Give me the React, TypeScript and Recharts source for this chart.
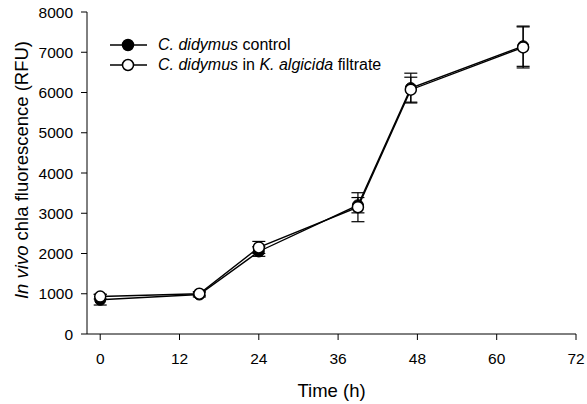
import React from 'react';
import { LineChart, Line, XAxis, YAxis, ErrorBar, Legend, Label } from 'recharts';

// sampling times (h) and in vivo chla fluorescence (RFU), mean and SD
const hours = [0, 15, 24, 39, 47, 64];
const controlRfu = [850, 980, 2050, 3200, 6110, 7150];
const controlSd = [130, 60, 120, 190, 370, 500];
const filtrateRfu = [930, 1000, 2150, 3150, 6070, 7120];
const filtrateSd = [60, 50, 150, 360, 310, 510];

const xTicks = [0, 12, 24, 36, 48, 60, 72];
const yTicks = [0, 1000, 2000, 3000, 4000, 5000, 6000, 7000, 8000];

const FONT = '"Liberation Sans", Arial, sans-serif';

const data = hours.map((h, i) => ({
  h,
  ctrl: controlRfu[i],
  ctrlSd: controlSd[i],
  filt: filtrateRfu[i],
  filtSd: filtrateSd[i],
}));

const legendRows = [
  { sp: 'C. didymus', mid: ' control', strain: '', tail: '', fill: '#000' },
  { sp: 'C. didymus', mid: ' in ', strain: 'K. algicida', tail: ' filtrate', fill: '#fff' },
];

const ChartLegend = () => (
  <div style={{ fontFamily: FONT, fontSize: 16, color: '#000' }}>
    {legendRows.map((r, i) => (
      <div key={i} style={{ display: 'flex', alignItems: 'center', height: 20, whiteSpace: 'nowrap' }}>
        <svg width={38} height={14}>
          <line x1={0} y1={7} x2={37} y2={7} stroke="#000" strokeWidth={1.5} />
          <circle cx={18} cy={7} r={5.5} fill={r.fill} stroke="#000" strokeWidth={1.5} />
        </svg>
        <span style={{ marginLeft: 10 }}>
          <i>{r.sp}</i>{r.mid}{r.strain && <i>{r.strain}</i>}{r.tail}
        </span>
      </div>
    ))}
  </div>
);

const YTitle = () => (
  <text transform="translate(28,170) rotate(-90)" textAnchor="middle" fontSize={18.5} fill="#000" fontFamily={FONT}>
    <tspan fontStyle="italic">In vivo</tspan>
    <tspan> chla fluorescence (RFU)</tspan>
  </text>
);

const XTitle = () => (
  <text x={331.5} y={397} textAnchor="middle" fontSize={18.5} fill="#000" fontFamily={FONT}>
    Time (h)
  </text>
);

export default function App() {
  return (
    <div style={{ position: 'absolute', left: 0, top: 0, width: 587, height: 404, background: '#fff', fontFamily: FONT }}>
      <LineChart width={587} height={404} data={data} margin={{ top: 12, right: 11, bottom: 0, left: 0 }}>
        <XAxis
          dataKey="h"
          type="number"
          domain={[-2, 72]}
          ticks={xTicks}
          allowDataOverflow
          height={70}
          tickSize={6}
          tickMargin={13}
          axisLine={{ stroke: '#000' }}
          tickLine={{ stroke: '#000' }}
          tick={{ fill: '#000', fontSize: 15.5 }}
        >
          <Label content={<XTitle />} />
        </XAxis>
        <XAxis xAxisId="top" dataKey="h" type="number" domain={[-2, 72]} orientation="top" height={0} tick={false} tickLine={false} axisLine={{ stroke: '#000' }} />
        <YAxis
          type="number"
          domain={[0, 8000]}
          ticks={yTicks}
          width={87}
          tickSize={6}
          tickMargin={8}
          axisLine={{ stroke: '#000' }}
          tickLine={{ stroke: '#000' }}
          tick={{ fill: '#000', fontSize: 15.5 }}
        >
          <Label content={<YTitle />} />
        </YAxis>
        <YAxis yAxisId="right" orientation="right" domain={[0, 8000]} width={0} tick={false} tickLine={false} axisLine={{ stroke: '#000' }} />
        <Legend
          layout="vertical"
          align="center"
          verticalAlign="middle"
          content={<ChartLegend />}
          wrapperStyle={{ left: 110, top: 35, width: 'auto', height: 'auto' }}
        />
        <Line
          dataKey="ctrl"
          stroke="#000"
          strokeWidth={1.4}
          dot={{ r: 5.5, fill: '#000', stroke: '#000', strokeWidth: 1 }}
          isAnimationActive={false}
        >
          <ErrorBar dataKey="ctrlSd" direction="y" width={6.5} stroke="#000" strokeWidth={1.2} />
        </Line>
        <Line
          dataKey="filt"
          stroke="#000"
          strokeWidth={1.4}
          dot={{ r: 5.5, fill: '#fff', stroke: '#000', strokeWidth: 1.5 }}
          isAnimationActive={false}
        >
          <ErrorBar dataKey="filtSd" direction="y" width={6.5} stroke="#000" strokeWidth={1.2} />
        </Line>
      </LineChart>
    </div>
  );
}
